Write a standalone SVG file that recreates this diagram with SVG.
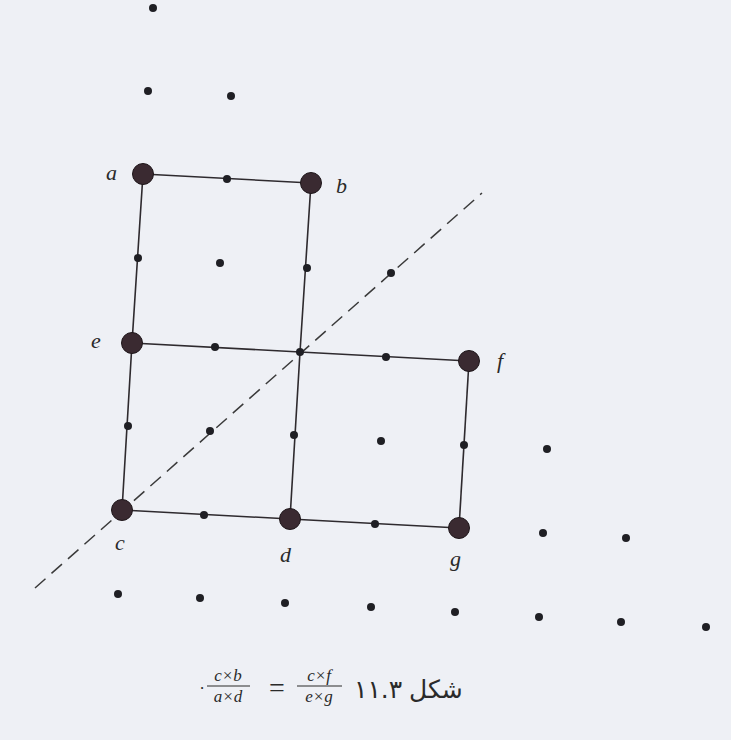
<svg xmlns="http://www.w3.org/2000/svg" width="731" height="740" viewBox="0 0 731 740">
<style>
.bg{fill:#eef0f5}
.edge{stroke:#2e2a2e;stroke-width:1.6;fill:none}
.dash{stroke:#3a3a3a;stroke-width:1.5;fill:none;stroke-dasharray:14,8}
.big{fill:#3a2a31;stroke:#1e161a;stroke-width:1}
.dot{fill:#1f1f24}
.lbl{font-family:"Liberation Serif",serif;font-style:italic;font-size:22px;fill:#2a2a2a}
.frac{font-family:"Liberation Serif",serif;font-style:italic;font-size:17px;fill:#2a2a2a;text-anchor:middle}
.cap{font-family:"DejaVu Sans",sans-serif;font-size:25px;fill:#2a2a2a}
</style>
<rect class="bg" x="0" y="0" width="731" height="740"/>
<g id="connectors">
<line class="dash" x1="35" y1="588" x2="482" y2="193"/>
<polyline class="edge" points="143,174 311,183"/>
<polyline class="edge" points="143,174 132,343 122,510"/>
<polyline class="edge" points="311,183 300,352 290,519"/>
<polyline class="edge" points="132,343 300,352 469,361"/>
<polyline class="edge" points="469,361 459,528"/>
<polyline class="edge" points="122,510 290,519 459,528"/>
</g>
<g id="dots">
<circle class="dot" cx="153" cy="8" r="4"/>
<circle class="dot" cx="148" cy="91" r="4"/>
<circle class="dot" cx="231" cy="96" r="4"/>
<circle class="dot" cx="227" cy="179" r="4"/>
<circle class="dot" cx="138" cy="258" r="4"/>
<circle class="dot" cx="220" cy="263" r="4"/>
<circle class="dot" cx="307" cy="268" r="4"/>
<circle class="dot" cx="391" cy="273" r="4"/>
<circle class="dot" cx="215" cy="347" r="4"/>
<circle class="dot" cx="300" cy="352" r="4"/>
<circle class="dot" cx="386" cy="357" r="4"/>
<circle class="dot" cx="128" cy="426" r="4"/>
<circle class="dot" cx="210" cy="431" r="4"/>
<circle class="dot" cx="294" cy="435" r="4"/>
<circle class="dot" cx="381" cy="441" r="4"/>
<circle class="dot" cx="464" cy="445" r="4"/>
<circle class="dot" cx="547" cy="449" r="4"/>
<circle class="dot" cx="204" cy="515" r="4"/>
<circle class="dot" cx="375" cy="524" r="4"/>
<circle class="dot" cx="543" cy="533" r="4"/>
<circle class="dot" cx="626" cy="538" r="4"/>
<circle class="dot" cx="118" cy="594" r="4"/>
<circle class="dot" cx="200" cy="598" r="4"/>
<circle class="dot" cx="285" cy="603" r="4"/>
<circle class="dot" cx="371" cy="607" r="4"/>
<circle class="dot" cx="455" cy="612" r="4"/>
<circle class="dot" cx="539" cy="617" r="4"/>
<circle class="dot" cx="621" cy="622" r="4"/>
<circle class="dot" cx="706" cy="627" r="4"/>
</g>
<g id="node-a"><circle class="big" cx="143" cy="174" r="10.5"/><text class="lbl" x="106" y="180">a</text></g>
<g id="node-b"><circle class="big" cx="311" cy="183" r="10.5"/><text class="lbl" x="336" y="193">b</text></g>
<g id="node-e"><circle class="big" cx="132" cy="343" r="10.5"/><text class="lbl" x="91" y="348">e</text></g>
<g id="node-f"><circle class="big" cx="469" cy="361" r="10.5"/><text class="lbl" x="497" y="368">f</text></g>
<g id="node-c"><circle class="big" cx="122" cy="510" r="10.5"/><text class="lbl" x="115" y="550">c</text></g>
<g id="node-d"><circle class="big" cx="290" cy="519" r="10.5"/><text class="lbl" x="280" y="562">d</text></g>
<g id="node-g"><circle class="big" cx="459" cy="528" r="10.5"/><text class="lbl" x="450" y="566">g</text></g>
<g id="caption">
<text class="frac" x="202" y="694" style="font-style:normal">·</text>
<text class="frac" x="228" y="681">c×b</text>
<line x1="207" y1="686" x2="250" y2="686" stroke="#2a2a2a" stroke-width="1.2"/>
<text class="frac" x="228" y="702">a×d</text>
<text class="frac" x="277" y="697" style="font-style:normal;font-size:28px">=</text>
<text class="frac" x="319" y="681">c×f</text>
<line x1="297" y1="686" x2="342" y2="686" stroke="#2a2a2a" stroke-width="1.2"/>
<text class="frac" x="319" y="702">e×g</text>
<text class="cap" x="354" y="698">۱۱.۳</text>
<text class="cap" x="409" y="698">شکل</text>
</g>
</svg>
